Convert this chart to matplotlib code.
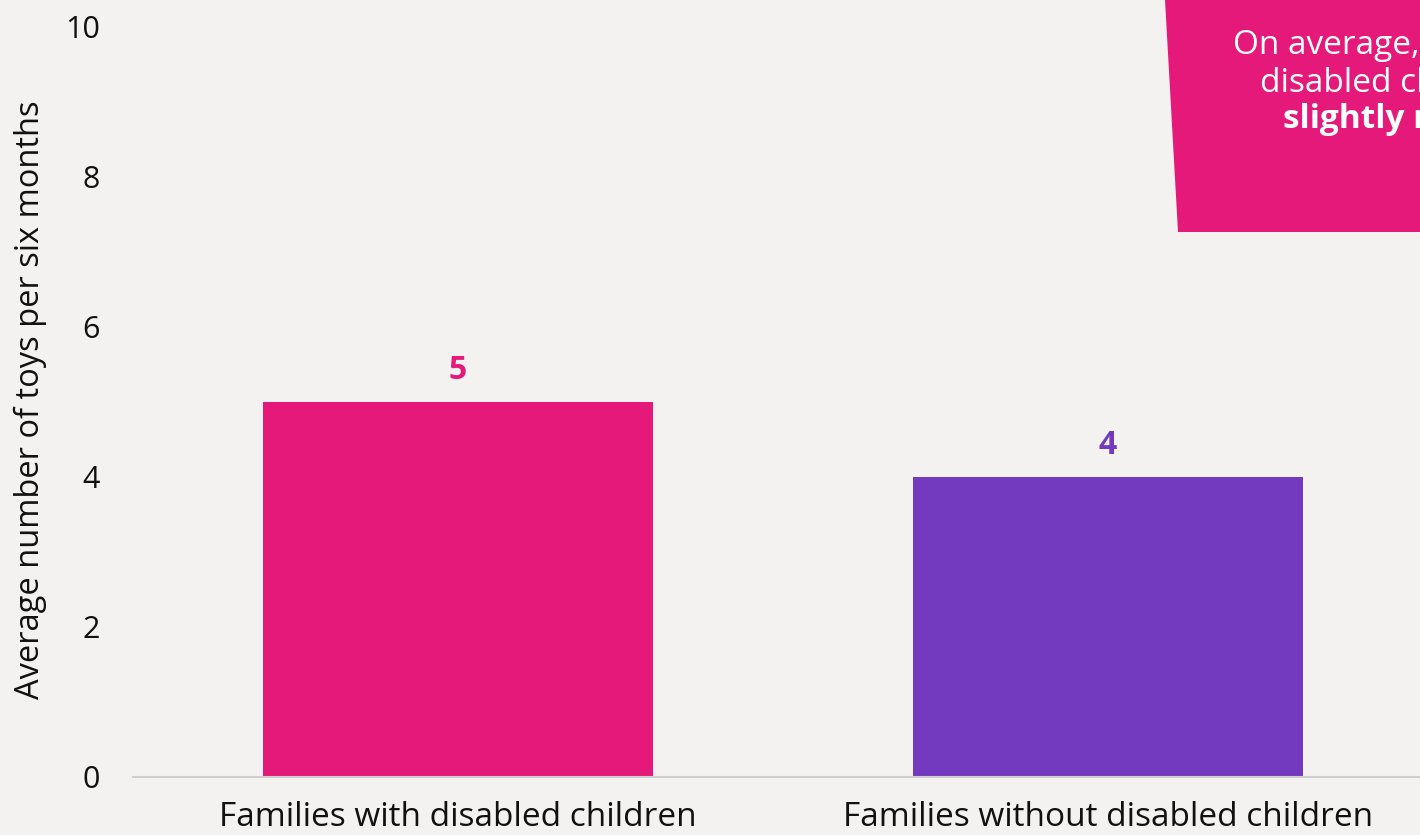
import numpy as np
import matplotlib.pyplot as plt
from matplotlib.patches import Polygon

plt.rcParams['font.family'] = ['Open Sans', 'DejaVu Sans']

categories = ["Families with disabled children", "Families without disabled children"]
values = [5, 4]
bar_colors = ["#E5197A", "#733ABF"]
yticks = [0, 2, 4, 6, 8, 10]
note_lines = ["On average, families", "disabled children", "slightly more"]

W, H = 1420, 835
bg = "#F4F2F0"
fig = plt.figure(figsize=(W / 100, H / 100), dpi=100, facecolor=bg)
# zero line at y=777 px, 10 at y=27 px
ax = fig.add_axes([133 / W, 58 / H, 1 - 133 / W, (777 - 27) / H])
ax.set_facecolor(bg)

x = np.arange(len(categories))
ax.bar(x, values, width=0.6, color=bar_colors, zorder=2)
for xi, v, c in zip(x, values, bar_colors):
    ax.text(xi, v + 0.2, str(v), ha='center', va='bottom', color=c,
            fontsize=23, fontweight='bold')

ax.set_xlim(-0.5, (1420 - 457.5) / 650)
ax.set_ylim(0, 10)
ax.set_yticks(yticks)
ax.set_yticklabels([str(t) for t in yticks], fontsize=22, color="#111111")
ax.set_xticks(x)
ax.set_xticklabels(categories, fontsize=24, color="#111111")
ax.tick_params(axis='y', length=0, pad=24)
ax.tick_params(axis='x', length=0, pad=17)
for s in ['top', 'right', 'left']:
    ax.spines[s].set_visible(False)
ax.spines['bottom'].set_color("#CFCFCF")
ax.spines['bottom'].set_linewidth(1.5)
ax.set_ylabel("Average number of toys per six months", fontsize=23.5, color="#111111")
ax.yaxis.set_label_coords((47 - 133) / 1287, 0.503)

# pink note box, cut off at the right edge like in the source
box = Polygon([(1165 / W, 1.0), (1.02, 1.0), (1.02, 1 - 232 / H), (1178 / W, 1 - 232 / H)],
              closed=True, transform=fig.transFigure, facecolor="#E5197A",
              edgecolor='none', zorder=5)
fig.patches.append(box)
fig.text(1233 / W, 1 - 54 / H, note_lines[0], color='white', fontsize=24,
         ha='left', va='baseline', zorder=6)
fig.text(1260 / W, 1 - 92 / H, note_lines[1], color='white', fontsize=24,
         ha='left', va='baseline', zorder=6)
fig.text(1283 / W, 1 - 128 / H, note_lines[2], color='white', fontsize=24,
         fontweight='bold', ha='left', va='baseline', zorder=6)

fig.savefig("out.png", dpi=100, facecolor=bg)
